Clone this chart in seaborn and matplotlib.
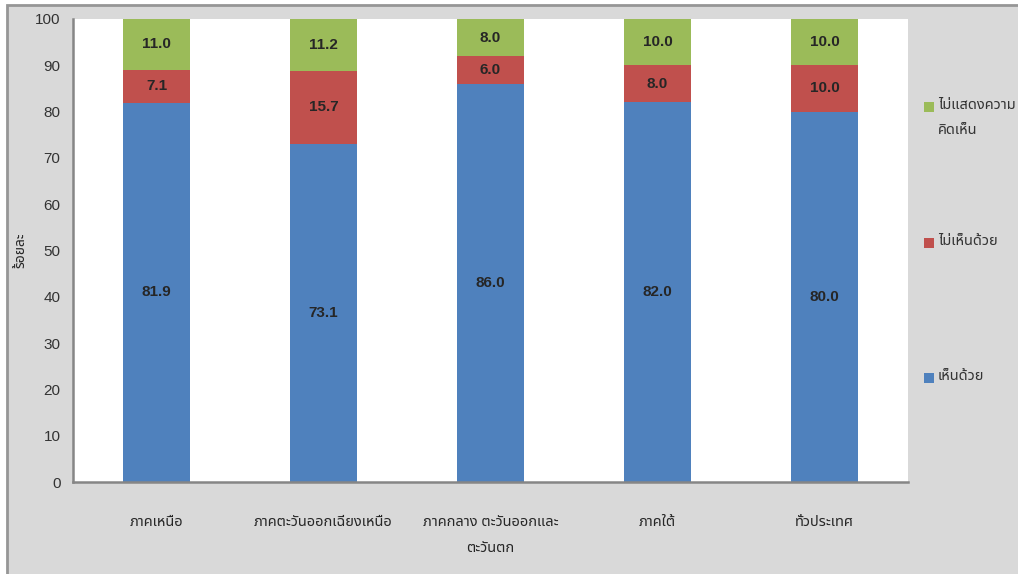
import matplotlib
matplotlib.use("Agg")
import matplotlib.pyplot as plt
from matplotlib import font_manager
from matplotlib.patches import Rectangle
import seaborn as sns
import pandas as pd

# Opinion survey by region (percent)
regions = ["ภาคเหนือ", "ภาคตะวันออกเฉียงเหนือ", "ภาคกลาง ตะวันออกและ\nตะวันตก", "ภาคใต้", "ทั่วประเทศ"]
agree = [81.9, 73.1, 86.0, 82.0, 80.0]
disagree = [7.1, 15.7, 6.0, 8.0, 10.0]
no_opinion = [11.0, 11.2, 8.0, 10.0, 10.0]
series_names = ["เห็นด้วย", "ไม่เห็นด้วย", "ไม่แสดงความ\nคิดเห็น"]
series_colors = ["#4F81BD", "#C0504D", "#9BBB59"]
y_ticks = [0, 10, 20, 30, 40, 50, 60, 70, 80, 90, 100]
y_label = "ร้อยละ"

sns.set_theme(style="white")
available = {f.name for f in font_manager.fontManager.ttflist}
num_font = "Liberation Sans Narrow" if "Liberation Sans Narrow" in available else "Liberation Sans"
thai_font = "Noto Sans Thai"
plt.rcParams["font.family"] = [num_font, thai_font, "DejaVu Sans"]

df = pd.DataFrame({"region": regions, "agree": agree,
                   "disagree": disagree, "no_opinion": no_opinion})
df["lvl1"] = df["agree"]
df["lvl2"] = df["agree"] + df["disagree"]
df["lvl3"] = df["lvl2"] + df["no_opinion"]

fig = plt.figure(figsize=(10.18, 5.74), dpi=100, facecolor="white")
# chart-area background with its frame
fig.patches.append(Rectangle((7 / 1018, -0.05), 1.1, 1 - 5 / 574 + 0.05,
                             transform=fig.transFigure, facecolor="#D9D9D9",
                             edgecolor="#969696", linewidth=2, zorder=-5))

ax = fig.add_axes([73 / 1018, 1 - 482 / 574, (908 - 73) / 1018, (482 - 19) / 574])
ax.set_facecolor("white")

# stacked bars: draw cumulative totals from the top level down
for col, color in [("lvl3", series_colors[2]), ("lvl2", series_colors[1]), ("lvl1", series_colors[0])]:
    sns.barplot(data=df, x="region", y=col, color=color, width=0.4,
                saturation=1, linewidth=0, ax=ax, zorder=2)

# value labels centred in each segment
for i, row in df.iterrows():
    segs = [(0, row["agree"]), (row["lvl1"], row["disagree"]), (row["lvl2"], row["no_opinion"])]
    for base, val in segs:
        ax.text(i, base + val / 2, f"{val:.1f}", ha="center", va="center",
                fontsize=11, fontweight="bold", color="#262626", zorder=3)

ax.set_ylim(0, 100)
ax.set_xlim(-0.5, len(regions) - 0.5)
ax.set_yticks(y_ticks)
ax.set_yticklabels([str(t) for t in y_ticks], fontsize=11, color="#333333")
ax.set_xticks(range(len(regions)))
ax.set_xticklabels(regions, fontsize=10.5, color="#262626", linespacing=2.0,
                   family=[thai_font])
ax.set_xticks([i - 0.5 for i in range(len(regions) + 1)], minor=True)
ax.tick_params(axis="x", which="major", length=0, pad=24)
ax.tick_params(axis="x", which="minor", length=6, width=1.2, color="#868686", direction="out")
ax.tick_params(axis="y", length=5, width=1.2, color="#868686", direction="out", pad=4)
ax.set_xlabel("")
ax.set_ylabel(y_label, fontsize=10, fontweight="bold", color="#262626",
              family=[thai_font], labelpad=5)

for side in ["top", "right"]:
    ax.spines[side].set_visible(False)
for side in ["left", "bottom"]:
    ax.spines[side].set_color("#868686")
    ax.spines[side].set_linewidth(1.8)

# legend entries on the right, top to bottom
legend_rows = [(series_names[2], series_colors[2], 107),
               (series_names[1], series_colors[1], 243),
               (series_names[0], series_colors[0], 378)]
for label, color, ypix in legend_rows:
    fig.patches.append(Rectangle((924 / 1018, 1 - (ypix + 5) / 574), 10 / 1018, 10 / 574,
                                 transform=fig.transFigure, facecolor=color,
                                 edgecolor="none", zorder=3))
    fig.text(938 / 1018, 1 - (ypix - 9) / 574, label, ha="left", va="top",
             fontsize=10.5, color="#333333", linespacing=1.9, family=[thai_font])

fig.savefig("out.png", dpi=100, facecolor=fig.get_facecolor())
